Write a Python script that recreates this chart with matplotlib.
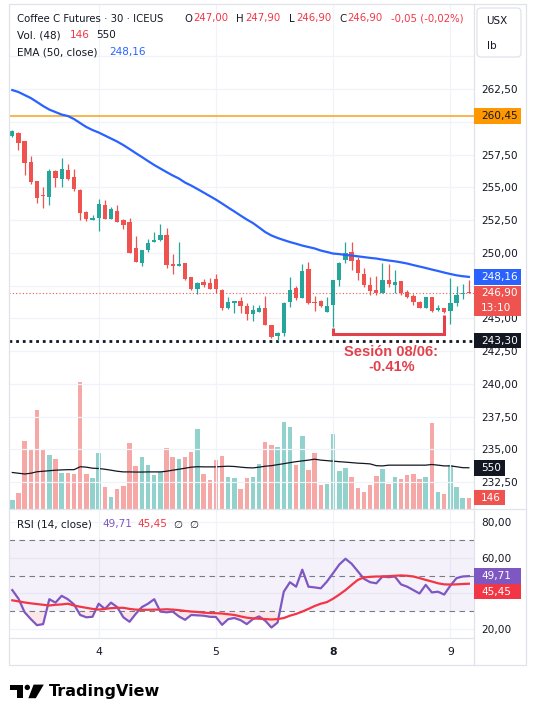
import matplotlib
matplotlib.use('Agg')
import matplotlib.pyplot as plt
import matplotlib.patches as mpatches
from matplotlib.ticker import FuncFormatter
import numpy as np

# ── data: Coffee C Futures, 30-min bars ─────────────────────────────────
opens = [258.94, 259.16, 258.53, 256.93, 255.48, 254.39, 254.28, 256.24, 255.61, 256.29,
         255.78, 254.81, 253.11, 252.48, 252.68, 253.64, 252.60, 253.19, 252.52, 252.35,
         250.36, 249.24, 250.21, 250.82, 250.97, 251.35, 249.12, 249.01, 249.19, 248.15,
         247.26, 247.77, 247.67, 248.00, 247.16, 245.78, 246.19, 246.29, 245.93, 245.30,
         245.50, 245.76, 244.48, 243.67, 243.85, 246.22, 247.33, 246.57, 248.76, 246.22,
         246.32, 245.45, 245.99, 247.92, 249.45, 250.03, 249.45, 248.38, 247.54, 247.13,
         246.90, 247.92, 247.54, 247.84, 247.03, 246.70, 246.26, 245.80, 246.62, 245.61,
         245.76, 245.55, 246.14, 246.83, 247.00]
highs = [259.37, 259.22, 258.53, 257.39, 255.48, 255.04, 256.37, 256.32, 257.21, 256.80,
         256.39, 254.87, 253.21, 252.90, 254.08, 254.03, 253.47, 253.64, 252.60, 252.63,
         251.28, 250.21, 251.03, 251.56, 252.22, 251.87, 249.90, 250.82, 249.19, 248.15,
         247.79, 247.97, 248.05, 248.38, 247.21, 246.60, 246.34, 246.60, 246.14, 246.01,
         246.01, 246.72, 244.48, 243.93, 246.22, 248.13, 247.48, 249.12, 249.27, 246.72,
         246.37, 246.64, 247.92, 249.32, 250.84, 250.84, 249.70, 248.81, 248.17, 248.25,
         249.19, 249.12, 248.68, 247.84, 247.16, 246.85, 246.32, 246.62, 246.62, 246.01,
         245.76, 248.05, 247.48, 247.59, 247.90]
lows = [258.81, 257.84, 255.94, 255.25, 253.82, 253.44, 253.67, 255.04, 255.04, 255.55,
        254.71, 252.50, 252.40, 252.48, 251.68, 252.60, 252.60, 252.37, 251.81, 249.96,
        249.32, 248.99, 250.08, 250.82, 250.92, 248.81, 248.35, 248.99, 247.92, 247.16,
        246.87, 247.38, 247.26, 246.90, 245.63, 245.73, 245.38, 245.42, 244.87, 244.79,
        245.45, 244.48, 243.47, 243.30, 243.64, 245.88, 246.39, 246.57, 246.11, 245.55,
        245.86, 245.45, 244.35, 247.48, 249.19, 248.68, 247.92, 247.41, 246.77, 246.77,
        246.90, 247.41, 246.90, 246.77, 246.57, 246.01, 245.76, 245.76, 245.50, 245.55,
        245.38, 244.54, 245.96, 246.47, 246.90]
closes = [259.29, 258.40, 256.83, 255.40, 254.20, 254.33, 256.26, 255.73, 256.39, 255.65,
          254.84, 253.06, 252.55, 252.68, 253.70, 252.60, 253.32, 252.37, 252.12, 249.98,
          249.32, 250.21, 250.72, 250.97, 251.33, 249.06, 249.01, 249.12, 248.00, 247.23,
          247.71, 247.54, 247.26, 247.26, 245.76, 246.24, 246.29, 245.93, 245.30, 245.63,
          245.76, 244.48, 243.59, 243.85, 246.14, 247.16, 246.52, 248.61, 246.19, 246.16,
          245.96, 245.91, 247.92, 249.19, 250.00, 249.37, 248.43, 247.54, 247.08, 246.90,
          247.92, 247.59, 247.74, 246.90, 246.64, 246.26, 245.80, 246.62, 245.55, 245.76,
          245.45, 246.14, 246.77, 246.95, 246.90]
volumes = [108, 212, 905, 797, 1323, 797, 716, 662, 473, 473,
           459, 1701, 459, 405, 743, 284, 149, 257, 297, 878,
           567, 689, 581, 446, 486, 810, 689, 662, 689, 756,
           1067, 459, 378, 648, 702, 419, 405, 257, 405, 419,
           594, 891, 851, 824, 1161, 1094, 581, 972, 513, 743,
           311, 324, 999, 500, 540, 419, 270, 216, 311, 432,
           527, 324, 419, 392, 446, 459, 392, 419, 1148, 216,
           189, 581, 284, 135, 146]
vol_ma = [486, 476, 466, 476, 496, 503, 510, 517, 521, 524,
          524, 564, 558, 544, 540, 530, 517, 503, 494, 494,
          492, 492, 494, 494, 494, 503, 517, 530, 544, 558,
          564, 562, 562, 562, 567, 571, 567, 558, 551, 548,
          558, 571, 578, 592, 605, 619, 632, 643, 653, 666,
          653, 646, 639, 632, 626, 619, 612, 608, 602, 578,
          575, 585, 585, 585, 585, 585, 585, 585, 594, 585,
          575, 575, 564, 551, 550]
ema50 = [262.42, 262.27, 262.04, 261.81, 261.51, 261.20, 260.93, 260.74, 260.55, 260.44,
         260.21, 259.90, 259.60, 259.37, 259.18, 258.95, 258.72, 258.49, 258.22, 257.92,
         257.61, 257.31, 257.00, 256.70, 256.43, 256.16, 255.90, 255.67, 255.36, 255.13,
         254.87, 254.60, 254.33, 254.06, 253.76, 253.45, 253.15, 252.84, 252.54, 252.27,
         251.93, 251.58, 251.32, 251.13, 250.97, 250.82, 250.69, 250.55, 250.44, 250.33,
         250.17, 250.06, 249.94, 249.90, 249.83, 249.79, 249.73, 249.67, 249.61, 249.56,
         249.48, 249.41, 249.35, 249.27, 249.18, 249.06, 248.95, 248.84, 248.72, 248.61,
         248.49, 248.38, 248.28, 248.21, 248.16]
rsi = [41.9, 37.1, 29.5, 25.7, 22.3, 22.9, 36.8, 34.9, 38.7, 36.8,
       33.9, 28.0, 26.7, 27.0, 34.3, 31.4, 34.9, 32.4, 26.7, 24.2,
       28.6, 32.4, 34.3, 36.8, 29.9, 29.5, 29.9, 27.2, 25.3, 28.0,
       27.8, 27.6, 27.0, 26.9, 22.5, 25.7, 26.3, 25.1, 22.9, 25.7,
       27.2, 24.8, 21.0, 23.8, 41.0, 46.3, 43.8, 53.3, 43.8, 43.4,
       42.9, 46.7, 51.4, 56.2, 59.4, 56.6, 52.4, 48.2, 46.3, 45.7,
       49.5, 49.1, 49.5, 45.1, 43.8, 41.9, 40.0, 44.8, 40.6, 41.0,
       39.4, 44.4, 48.6, 49.5, 49.71]
rsi_ma = [36.2, 35.6, 35.0, 34.5, 34.1, 33.7, 33.3, 33.7, 33.9, 34.3,
          33.3, 32.6, 32.0, 31.4, 31.0, 31.4, 31.8, 32.0, 32.0, 31.4,
          31.0, 30.9, 30.9, 31.0, 31.0, 31.2, 31.0, 30.7, 30.3, 29.9,
          29.7, 29.3, 29.1, 29.0, 28.8, 28.4, 28.0, 27.2, 26.5, 26.1,
          25.9, 25.7, 25.5, 25.7, 26.3, 27.6, 28.6, 29.9, 31.4, 33.0,
          34.3, 35.2, 37.1, 39.4, 41.9, 44.8, 47.6, 49.0, 49.3, 49.5,
          49.5, 49.7, 49.9, 50.1, 49.9, 49.5, 48.6, 47.6, 46.7, 45.7,
          45.1, 45.0, 45.1, 45.3, 45.45]

day_starts = [14, 33, 52, 71]
day_labels = ['4', '5', '8', '9']
alert_level = 260.45
session_low = 243.30
bracket_y = 243.80
session_text = 'Sesión 08/06:\n-0.41%'
last_time = '13:10'

UP, DOWN = '#26a69a', '#ef5350'
RED, BLUE, PURP = '#f23645', '#2962ff', '#7e57c2'
DARK = '#131722'
GRID = '#f0f3fa'
BORDER = '#e0e3eb'
FS = 7.5

W, H = 535, 709
fig = plt.figure(figsize=(W / 100, H / 100), dpi=100)
fig.patch.set_facecolor('white')
renderer = fig.canvas.get_renderer()


def frac(x0, y0, x1, y1):
    return [x0 / W, 1 - y1 / H, (x1 - x0) / W, (y1 - y0) / H]


def fmt(v):
    return f'{v:.2f}'.replace('.', ',')


def ypix(axis, val):
    return H - axis.transData.transform((0, val))[1]


# tag boxes per axis, used to hide tick labels lying underneath
covered = {}


def tick_fmt(axis, top=None):
    def f(v, p):
        if top is not None and v > top:
            return ''
        y = ypix(axis, v)
        for y0, y1 in covered.get(id(axis), []):
            if y0 - 1 < y < y1 + 1:
                return ''
        return fmt(v)
    return FuncFormatter(f)


PL, PR = 9, 473.5
n = len(closes)
xs = np.arange(n)
o, hi, lo, c = map(np.array, (opens, highs, lows, closes))
up = c >= o
cols = np.where(up, UP, DOWN)

# ── main pane ───────────────────────────────────────────────────────────
ax = fig.add_axes(frac(PL, 4, PR, 508.5))
vax = ax.twinx()
ax.set_zorder(2)
vax.set_zorder(1)
ax.patch.set_visible(False)
vax.patch.set_visible(False)

vax.bar(xs, volumes, width=0.72, color=cols, alpha=0.5, linewidth=0)
vax.plot(xs, vol_ma, color=DARK, lw=0.9)
vax.set_ylim(0, 6810)
vax.set_yticks([])

ax.vlines(xs, lo, hi, colors=cols, lw=0.9, zorder=3)
ax.bar(xs, np.maximum(np.abs(c - o), 0.06), bottom=np.minimum(o, c),
       width=0.7, color=cols, linewidth=0, zorder=4)
ax.plot(xs, ema50, color=BLUE, lw=1.6, zorder=5)

ax.axhline(alert_level, color='#f7a21b', lw=1.1, zorder=2)
ax.axhline(session_low, color=DARK, lw=2.0, ls=(0, (1, 1.4)), zorder=2)
ax.axhline(c[-1], color=DOWN, lw=0.8, ls=(0, (1, 2)), zorder=2)

bc = '#e2414b'
ax.plot([52, 52, 70, 70], [lo[52] - 0.08, bracket_y, bracket_y, lo[70] - 0.1],
        color=bc, lw=2.2, solid_joinstyle='miter', solid_capstyle='butt', zorder=6)
ax.annotate(session_text, xy=((52 + 70) / 2, bracket_y), xytext=(2, -8),
            textcoords='offset points', ha='center', va='top', fontsize=10.5,
            fontweight='bold', color=bc, linespacing=1.05, family='Liberation Sans')

ax.set_xlim(-0.535, 74.75)
ax.set_ylim(230.48, 268.99)
ax.yaxis.tick_right()
ax.set_yticks(np.arange(232.5, 265.1, 2.5))
ax.yaxis.set_major_formatter(tick_fmt(ax, top=263))
ax.set_xticks(day_starts)
ax.tick_params(axis='x', length=0, labelbottom=False)
ax.tick_params(axis='y', length=0, pad=5.5, labelsize=7.6, labelcolor=DARK)
ax.grid(True, color=GRID, lw=0.9, zorder=0)
for s in list(ax.spines.values()) + list(vax.spines.values()):
    s.set_visible(False)

# ── RSI pane ────────────────────────────────────────────────────────────
rax = fig.add_axes(frac(PL, 509, PR, 637.5))
rv = np.array(rsi)
rax.axhspan(30, 70, color=PURP, alpha=0.08, lw=0)
for lvl in (70, 50, 30):
    rax.axhline(lvl, color='#787b86', lw=0.8, ls=(0, (5, 4)))
rax.fill_between(xs, rv, 30, where=rv < 30, interpolate=True, color=RED, alpha=0.12, lw=0)
rax.plot(xs, rsi, color=PURP, lw=1.6)
rax.plot(xs, rsi_ma, color=RED, lw=1.6)
rax.set_xlim(-0.535, 74.75)
rax.set_ylim(15.42, 87.2)
rax.yaxis.tick_right()
rax.set_yticks([20, 40, 60, 80])
rax.yaxis.set_major_formatter(tick_fmt(rax))
rax.set_xticks(day_starts)
rax.set_xticklabels(day_labels)
for t in rax.get_xticklabels():
    if t.get_text() == '8':
        t.set_fontweight('bold')
rax.tick_params(axis='x', length=0, pad=7, labelsize=7.8, labelcolor=DARK)
rax.tick_params(axis='y', length=0, pad=5.5, labelsize=7.6, labelcolor=DARK)
rax.grid(True, color=GRID, lw=0.9)
rax.set_axisbelow(True)
for s in rax.spines.values():
    s.set_visible(False)

# ── overlay: frame, legends, axis tags ──────────────────────────────────
ov = fig.add_axes([0, 0, 1, 1])
ov.set_zorder(10)
ov.set_xlim(0, W)
ov.set_ylim(H, 0)
ov.axis('off')
ov.patch.set_visible(False)

ov.add_patch(mpatches.Rectangle((8.5, 4), 517, 661, fill=False, ec=BORDER, lw=0.9))
ov.plot([PR, PR], [4, 665], color=BORDER, lw=0.9)
ov.plot([8.5, 525.5], [508.5, 508.5], color=BORDER, lw=0.9)
ov.plot([8.5, PR], [637.5, 637.5], color=BORDER, lw=0.9)

ov.add_patch(mpatches.FancyBboxPatch((477, 8), 44, 49, boxstyle='round,pad=0,rounding_size=4',
                                     fc='white', ec=BORDER, lw=0.9))
ov.text(486, 21, 'USX', fontsize=FS, color=DARK, va='center')
ov.text(487, 46, 'lb', fontsize=FS, color=DARK, va='center')


def tag(axis, yc, text, bg, fg='white', x1=520.5, h=15.5, extra=None):
    hh = h + (15 if extra else 0)
    y0 = yc - h / 2
    ov.add_patch(mpatches.Rectangle((PR, y0), x1 - PR, hh, fc=bg, ec='none', zorder=5))
    ov.text(481, yc, text, va='center', ha='left', fontsize=7.6, color=fg, zorder=6)
    if extra:
        ov.text(481, yc + 15, extra, va='center', ha='left', fontsize=7.6, color=fg, zorder=6)
    covered.setdefault(id(axis), []).append((y0, y0 + hh))
    return y0 + hh


tag(ax, ypix(ax, alert_level), fmt(alert_level), '#ff9800', DARK)
tag(ax, ypix(ax, ema50[-1]), fmt(ema50[-1]), BLUE)
tag(ax, ypix(ax, c[-1]), fmt(c[-1]), DOWN, extra=last_time)
tag(ax, ypix(ax, session_low), fmt(session_low), DARK)
tag(vax, ypix(vax, vol_ma[-1]), str(vol_ma[-1]), DARK, x1=505)
tag(vax, ypix(vax, volumes[-1]), str(volumes[-1]), DOWN, x1=505)
b = tag(rax, ypix(rax, rsi[-1]), fmt(rsi[-1]), PURP)
y2 = max(ypix(rax, rsi_ma[-1]), b + 7.75)
tag(rax, y2, fmt(rsi_ma[-1]), RED)


def legend_row(y, pieces, fs=FS):
    # pieces at their reference x, pushed right if the previous one runs into them
    end = 0
    for t, x, col in pieces:
        txt = ov.text(max(x, end + 1.5), y, t, fontsize=fs, color=col, va='center')
        end = txt.get_window_extent(renderer).x1


chg = c[-1] - c[-2]
pct = chg / c[-2] * 100
legend_row(18.5, [('Coffee C Futures · 30 · ICEUS', 17, DARK), ('O', 184, DARK), (fmt(o[-1]), 191.5, RED),
                  ('H', 236, DARK), (fmt(hi[-1]), 243.5, RED), ('L', 289, DARK), (fmt(lo[-1]), 296, RED),
                  ('C', 339, DARK), (fmt(c[-1]), 347, RED),
                  (f'{fmt(chg)} ({fmt(pct)}%)', 391, RED)], fs=7.3)
legend_row(35, [('Vol. (48)', 17, DARK), (str(volumes[-1]), 70, RED), (str(vol_ma[-1]), 96, DARK)])
legend_row(52.5, [('EMA (50, close)', 17, DARK), (fmt(ema50[-1]), 109, BLUE)])
legend_row(524.5, [('RSI (14, close)', 17, DARK), (fmt(rsi[-1]), 102, PURP), (fmt(rsi_ma[-1]), 137.5, RED),
                   ('∅', 173, DARK), ('∅', 189, DARK)])

# TradingView logo
ov.add_patch(mpatches.Polygon([(10.2, 684.6), (23.2, 684.6), (23.2, 698.2), (17, 698.2),
                               (17, 689.6), (10.2, 689.6)], closed=True, fc='#000000', ec='none'))
ov.add_patch(mpatches.Circle((27.3, 687.4), 2.7, fc='#000000', ec='none'))
ov.add_patch(mpatches.Polygon([(33.6, 684.6), (43.8, 684.6), (35.8, 698.2), (28.4, 698.2)],
                              closed=True, fc='#000000', ec='none'))
ov.text(49, 691.5, 'TradingView', fontsize=11.5, fontweight='bold', color='#000000', va='center')

fig.savefig('out.png', dpi=100)
